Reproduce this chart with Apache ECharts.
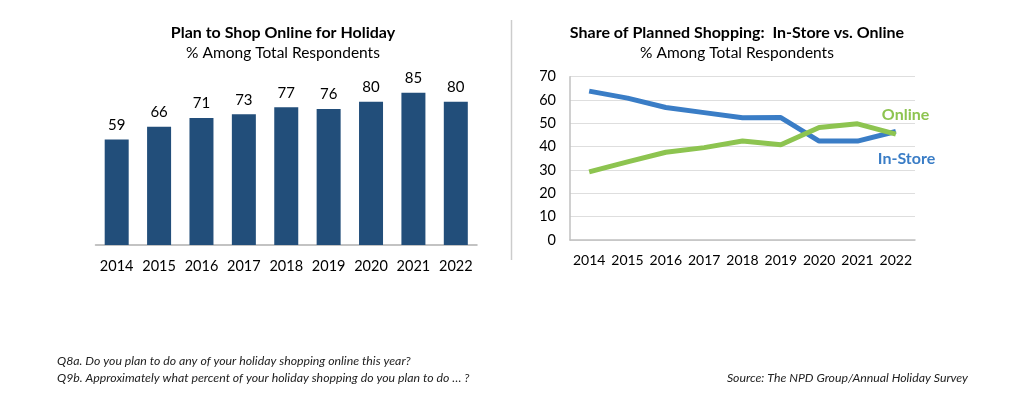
<!DOCTYPE html>
<html>
<head>
<meta charset="utf-8">
<script src="https://cdn.jsdelivr.net/npm/echarts@6/dist/echarts.min.js"></script>
<style>
  html, body { margin: 0; padding: 0; background: #fff; }
  #chart { width: 1024px; height: 399px; }
</style>
</head>
<body>
<div id="chart"></div>
<script>
const years = ['2014', '2015', '2016', '2017', '2018', '2019', '2020', '2021', '2022'];
const onlinePlan = [59, 66, 71, 73, 77, 76, 80, 85, 80];
const inStoreShare = [63.8, 60.8, 56.8, 54.6, 52.4, 52.5, 42.4, 42.4, 46.5];
const onlineShare = [29.2, 33.5, 37.6, 39.6, 42.4, 40.8, 48.2, 49.8, 45.4];

const font = 'Lato, "Noto Sans", sans-serif';
const barColor = '#224e7a';
const blue = '#3a7dc6';
const green = '#8dc450';
const noteFont = 'italic 12.3px ' + font;

const chart = echarts.init(document.getElementById('chart'));

const option = {
    animation: false,
    textStyle: { fontFamily: font },
    grid: [
        { left: 95.5, width: 381.5, top: 66, height: 179 },
        { left: 570, width: 345, top: 76.7, height: 163.3 }
    ],
    xAxis: [
        {
            gridIndex: 0,
            type: 'category',
            data: years,
            axisLine: { lineStyle: { color: '#b0b0b0', width: 1.5 } },
            axisTick: { show: false },
            axisLabel: { interval: 0, color: '#000', fontSize: 14.5, margin: 14 }
        },
        {
            gridIndex: 1,
            type: 'category',
            data: years,
            axisLine: { lineStyle: { color: '#c0c0c0', width: 1.5 } },
            axisTick: { show: false },
            axisLabel: { interval: 0, color: '#000', fontSize: 14, margin: 13 }
        }
    ],
    yAxis: [
        {
            gridIndex: 0,
            type: 'value',
            min: 0,
            max: 100,
            show: false
        },
        {
            gridIndex: 1,
            type: 'value',
            min: 0,
            max: 70,
            interval: 10,
            axisLine: { show: true, lineStyle: { color: '#c0c0c0', width: 1.5 } },
            axisTick: { show: false },
            splitLine: { lineStyle: { color: '#dedede', width: 1 } },
            axisLabel: { color: '#000', fontSize: 14.5, margin: 14 }
        }
    ],
    series: [
        {
            type: 'bar',
            xAxisIndex: 0,
            yAxisIndex: 0,
            data: onlinePlan,
            barWidth: 24,
            itemStyle: { color: barColor },
            label: {
                show: true,
                position: 'top',
                distance: 7,
                color: '#000',
                fontSize: 15
            }
        },
        {
            name: 'In-Store',
            type: 'line',
            xAxisIndex: 1,
            yAxisIndex: 1,
            data: inStoreShare,
            symbol: 'none',
            lineStyle: { color: blue, width: 5 },
            itemStyle: { color: blue },
            endLabel: {
                show: true,
                formatter: '{a}',
                color: blue,
                fontWeight: 'bold',
                fontSize: 16,
                offset: [-26, 27]
            }
        },
        {
            name: 'Online',
            type: 'line',
            xAxisIndex: 1,
            yAxisIndex: 1,
            data: onlineShare,
            symbol: 'none',
            lineStyle: { color: green, width: 5 },
            itemStyle: { color: green },
            endLabel: {
                show: true,
                formatter: '{a}',
                color: green,
                fontWeight: 'bold',
                fontSize: 16,
                offset: [-22, -19]
            }
        }
    ],
    graphic: [
        // titles
        { type: 'text', x: 283, y: 33, style: { text: 'Plan to Shop Online for Holiday', font: 'bold 16px ' + font, fill: '#000', align: 'center', verticalAlign: 'middle' } },
        { type: 'text', x: 283, y: 53, style: { text: '% Among Total Respondents', font: '15.5px ' + font, fill: '#000', align: 'center', verticalAlign: 'middle' } },
        { type: 'text', x: 737, y: 33, style: { text: 'Share of Planned Shopping:  In-Store vs. Online', font: 'bold 16px ' + font, fill: '#000', align: 'center', verticalAlign: 'middle' } },
        { type: 'text', x: 737, y: 53, style: { text: '% Among Total Respondents', font: '15.5px ' + font, fill: '#000', align: 'center', verticalAlign: 'middle' } },
        // divider
        { type: 'line', shape: { x1: 511.5, y1: 20, x2: 511.5, y2: 260 }, style: { stroke: '#cccccc', lineWidth: 1.5 } },
        // footnotes
        { type: 'text', x: 57, y: 361, style: { text: 'Q8a. Do you plan to do any of your holiday shopping online this year?', font: noteFont, fill: '#222', verticalAlign: 'middle' } },
        { type: 'text', x: 57, y: 378, style: { text: 'Q9b. Approximately what percent of your holiday shopping do you plan to do \u2026 ?', font: noteFont, fill: '#222', verticalAlign: 'middle' } },
        { type: 'text', x: 968, y: 378, style: { text: 'Source: The NPD Group/Annual Holiday Survey', font: noteFont, fill: '#222', align: 'right', verticalAlign: 'middle' } }
    ]
};

chart.setOption(option);
</script>
</body>
</html>
